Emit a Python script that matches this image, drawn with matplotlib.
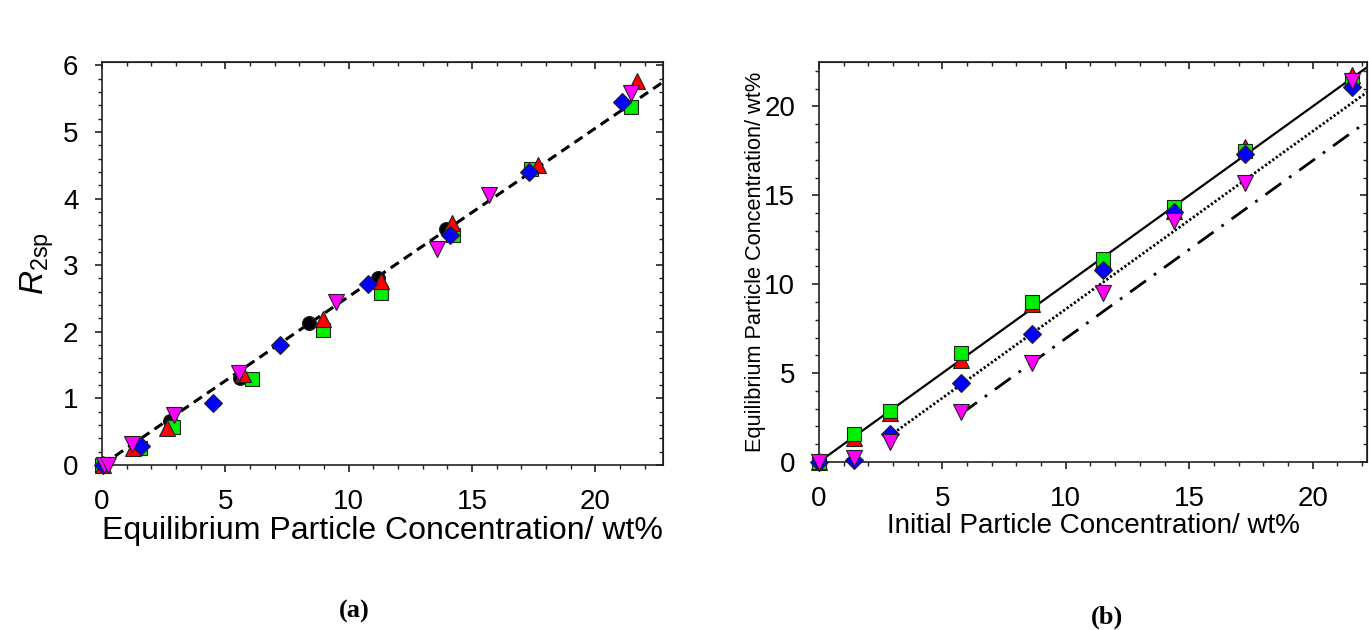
import numpy as np
import matplotlib.pyplot as plt
from matplotlib.ticker import MultipleLocator

plt.rcParams['font.family'] = ['Liberation Sans', 'DejaVu Sans']
plt.rcParams['mathtext.fontset'] = 'custom'
plt.rcParams['mathtext.rm'] = 'Liberation Sans'
plt.rcParams['mathtext.it'] = 'Liberation Sans:italic'

# ---- panel (a): R2sp vs equilibrium concentration ----
blk_x = [2.76, 5.6, 8.4, 11.2, 13.96]
blk_y = [0.66, 1.30, 2.13, 2.80, 3.55]
red_x = [0.05, 1.27, 2.63, 5.7, 8.95, 11.3, 14.2, 17.7, 21.7]
red_y = [0.0, 0.25, 0.56, 1.36, 2.19, 2.76, 3.63, 4.51, 5.76]
grn_x = [0.0, 1.54, 2.88, 6.1, 8.95, 11.3, 14.25, 17.4, 21.46]
grn_y = [0.0, 0.25, 0.57, 1.29, 2.02, 2.58, 3.46, 4.45, 5.37]
blu_x = [0.05, 1.6, 4.5, 7.2, 10.8, 14.1, 17.3, 21.1]
blu_y = [0.0, 0.29, 0.93, 1.80, 2.71, 3.46, 4.40, 5.45]
mag_x = [0.1, 0.25, 1.2, 2.92, 5.57, 9.5, 13.6, 15.7, 21.46]
mag_y = [0.0, 0.0, 0.32, 0.75, 1.38, 2.45, 3.25, 4.05, 5.58]
fit_slope_a = 0.2527

# ---- panel (b): equilibrium vs initial concentration ----
init = [0, 1.44, 2.88, 5.76, 8.64, 11.52, 14.4, 17.28, 21.6]
grn_eq = [0, 1.57, 2.86, 6.12, 8.99, 11.4, 14.33, 17.5, 21.5]
red_eq = [0, 1.35, 2.75, 5.75, 8.9, 11.3, 14.1, 17.7, 21.75]
blu_eq = [0, 0.1, 1.6, 4.45, 7.2, 10.8, 14.05, 17.35, 21.1]
mag_eq = [0, 0.2, 1.1, 2.8, 5.55, 9.5, 13.55, 15.7, 21.45]
line_start = [0.0, 2.88, 5.76]
line_offset = [0.0, 1.4, 3.05]

mk = dict(markeredgecolor='#222222', markeredgewidth=0.8, linestyle='none', clip_on=False, zorder=3)

fig = plt.figure(figsize=(13.69, 6.30), dpi=100)
ax1 = fig.add_axes([0.0745, 0.2619, 0.4098, 0.6397])
ax2 = fig.add_axes([0.5982, 0.2667, 0.4003, 0.6349])

# panel a
xa = np.linspace(0, 22.75, 50)
ax1.plot(xa, fit_slope_a * xa, color='black', lw=2.2, dashes=(3.2, 2.0), zorder=2)
ax1.plot(blk_x, blk_y, marker='o', color='black', markersize=10, **mk)
ax1.plot(grn_x, grn_y, marker='s', color='#00ee00', markersize=10, **mk)
ax1.plot(red_x, red_y, marker='^', color='#ff0000', markersize=11, **mk)
ax1.plot(blu_x, blu_y, marker='D', color='#0000ff', markersize=9.5, **mk)
ax1.plot(mag_x, mag_y, marker='v', color='#ff00ff', markersize=11, **mk)
ax1.set_xlim(0, 22.75)
ax1.set_ylim(0, 6.05)
ax1.xaxis.set_major_locator(MultipleLocator(5))
ax1.xaxis.set_minor_locator(MultipleLocator(1))
ax1.yaxis.set_major_locator(MultipleLocator(1))
ax1.yaxis.set_minor_locator(MultipleLocator(0.2))
ax1.set_xlabel('Equilibrium Particle Concentration/ wt%', fontsize=23, labelpad=1)
ax1.set_ylabel(r'$R_{\mathrm{2sp}}$', fontsize=24, labelpad=5)

# panel b
xb_end = 22.2
ls_list = ['-', (0, (0.8, 0.8)), (0, (7, 3.5, 1, 3.5))]
lw_list = [1.6, 2.0, 2.0]
for s, off, ls, lw in zip(line_start, line_offset, ls_list, lw_list):
    xx = np.linspace(s, xb_end, 50)
    ax2.plot(xx, xx - off, color='black', lw=lw, linestyle=ls, zorder=2)
ax2.plot(init, red_eq, marker='^', color='#ff0000', markersize=11, **mk)
ax2.plot(init, grn_eq, marker='s', color='#00ee00', markersize=10, **mk)
ax2.plot(init, blu_eq, marker='D', color='#0000ff', markersize=9.5, **mk)
ax2.plot(init, mag_eq, marker='v', color='#ff00ff', markersize=11, **mk)
ax2.set_xlim(0, xb_end)
ax2.set_ylim(0, 22.5)
for axis in (ax2.xaxis, ax2.yaxis):
    axis.set_major_locator(MultipleLocator(5))
    axis.set_minor_locator(MultipleLocator(1))
ax2.set_xlabel('Initial Particle Concentration/ wt%', fontsize=20, labelpad=1)
ax2.set_ylabel('Equilibrium Particle Concentration/ wt%', fontsize=15.7, labelpad=-1)

for ax, ymaj, ymin in ((ax1, 1, 0.2), (ax2, 5, 1)):
    for sp in ax.spines.values():
        sp.set_linewidth(1.2)
        sp.set_color('#222222')
    ax.tick_params(which='both', direction='out', labelsize=20, pad=12, color='#222222')
    ax.tick_params(which='major', length=5, width=1.2)
    ax.tick_params(which='minor', length=3, width=1.0)
    top = ax.secondary_xaxis('top')
    top.xaxis.set_major_locator(MultipleLocator(5))
    top.xaxis.set_minor_locator(MultipleLocator(1))
    top.tick_params(which='both', direction='in', labeltop=False, color='#222222')
    top.tick_params(which='major', length=5, width=1.2)
    top.tick_params(which='minor', length=3, width=1.0)
    right = ax.secondary_yaxis('right')
    right.yaxis.set_major_locator(MultipleLocator(ymaj))
    right.yaxis.set_minor_locator(MultipleLocator(ymin))
    right.tick_params(which='both', direction='in', labelright=False, color='#222222')
    right.tick_params(which='major', length=5, width=1.2)
    right.tick_params(which='minor', length=3, width=1.0)

fig.text(354 / 1369, 1 - 611 / 630, '(a)', family=['Liberation Serif', 'DejaVu Serif'],
         fontweight='bold', fontsize=19, ha='center', va='center')
fig.text(1107 / 1369, 1 - 617 / 630, '(b)', family=['Liberation Serif', 'DejaVu Serif'],
         fontweight='bold', fontsize=19, ha='center', va='center')

fig.savefig('out.png', dpi=100)
